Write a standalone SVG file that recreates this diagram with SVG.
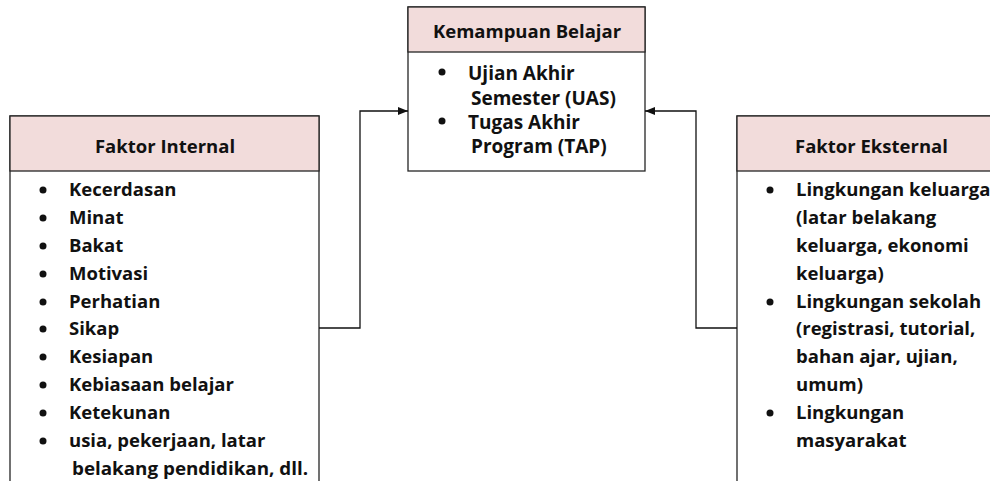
<svg xmlns="http://www.w3.org/2000/svg" width="990" height="481" viewBox="0 0 990 481">
  <style>
    .box { fill: #ffffff; stroke: #262626; stroke-width: 1.3; }
    .head { fill: #f2dcdb; stroke: #262626; stroke-width: 1.3; }
    .t { font-family: "Open Sans", "Liberation Sans", sans-serif; font-weight: 700; fill: #111111; }
    .h { font-size: 18.5px; }
    .li { font-size: 18.5px; }
    .lc { font-size: 19px; }
    .dot { fill: #111111; }
    .wire { fill: none; stroke: #111111; stroke-width: 1.3; }
  </style>
  <defs>
    <marker id="arrow" viewBox="0 0 10 8" refX="10" refY="4" markerWidth="10" markerHeight="8" markerUnits="userSpaceOnUse" orient="auto">
      <path d="M0,0 L10,4 L0,8 Z" fill="#111111"/>
    </marker>
  </defs>

  <rect width="990" height="481" fill="#ffffff"/>

  <!-- outcome node -->
  <g id="kemampuan-belajar">
    <rect class="box" x="408" y="7" width="237" height="164"/>
    <rect class="head" x="408" y="7" width="237" height="45"/>
    <text class="t h" x="527" y="38" text-anchor="middle">Kemampuan Belajar</text>
    <circle class="dot" cx="442" cy="72" r="3.5"/>
    <text class="t lc" x="468" y="80">Ujian Akhir</text>
    <text class="t lc" x="471" y="105">Semester (UAS)</text>
    <circle class="dot" cx="442" cy="121" r="3.5"/>
    <text class="t lc" x="468" y="129">Tugas Akhir</text>
    <text class="t lc" x="471" y="153">Program (TAP)</text>
  </g>

  <!-- internal factors node -->
  <g id="faktor-internal">
    <rect class="box" x="10" y="116" width="309" height="400"/>
    <rect class="head" x="10" y="116" width="309" height="55"/>
    <text class="t h" x="165" y="153" text-anchor="middle">Faktor Internal</text>
    <g class="dot">
      <circle cx="43" cy="190" r="3.5"/>
      <circle cx="43" cy="218" r="3.5"/>
      <circle cx="43" cy="246" r="3.5"/>
      <circle cx="43" cy="274" r="3.5"/>
      <circle cx="43" cy="302" r="3.5"/>
      <circle cx="43" cy="329" r="3.5"/>
      <circle cx="43" cy="357" r="3.5"/>
      <circle cx="43" cy="385" r="3.5"/>
      <circle cx="43" cy="413" r="3.5"/>
      <circle cx="43" cy="441" r="3.5"/>
    </g>
    <text class="t li" x="69" y="196">Kecerdasan</text>
    <text class="t li" x="69" y="224">Minat</text>
    <text class="t li" x="69" y="252">Bakat</text>
    <text class="t li" x="69" y="280">Motivasi</text>
    <text class="t li" x="69" y="308">Perhatian</text>
    <text class="t li" x="69" y="335">Sikap</text>
    <text class="t li" x="69" y="363">Kesiapan</text>
    <text class="t li" x="69" y="391">Kebiasaan belajar</text>
    <text class="t li" x="69" y="419">Ketekunan</text>
    <text class="t li" x="69" y="447">usia, pekerjaan, latar</text>
    <text class="t li" x="72" y="475" textLength="236" lengthAdjust="spacingAndGlyphs">belakang pendidikan, dll.</text>
  </g>

  <!-- external factors node -->
  <g id="faktor-eksternal">
    <rect class="box" x="737" y="116" width="300" height="400"/>
    <rect class="head" x="737" y="116" width="300" height="55"/>
    <text class="t h" x="795" y="153">Faktor Eksternal</text>
    <circle class="dot" cx="770" cy="190" r="3.5"/>
    <circle class="dot" cx="770" cy="302" r="3.5"/>
    <circle class="dot" cx="770" cy="413" r="3.5"/>
    <text class="t li" x="796" y="196">Lingkungan keluarga</text>
    <text class="t li" x="796" y="224">(latar belakang</text>
    <text class="t li" x="796" y="252">keluarga, ekonomi</text>
    <text class="t li" x="796" y="280">keluarga)</text>
    <text class="t li" x="796" y="308">Lingkungan sekolah</text>
    <text class="t li" x="796" y="335">(registrasi, tutorial,</text>
    <text class="t li" x="796" y="363">bahan ajar, ujian,</text>
    <text class="t li" x="796" y="391">umum)</text>
    <text class="t li" x="796" y="419">Lingkungan</text>
    <text class="t li" x="796" y="447">masyarakat</text>
  </g>

  <!-- connectors -->
  <g id="connectors">
    <path class="wire" d="M319,328 H360 V111 H408" marker-end="url(#arrow)"/>
    <path class="wire" d="M737,328 H696 V111 H645" marker-end="url(#arrow)"/>
  </g>
</svg>
